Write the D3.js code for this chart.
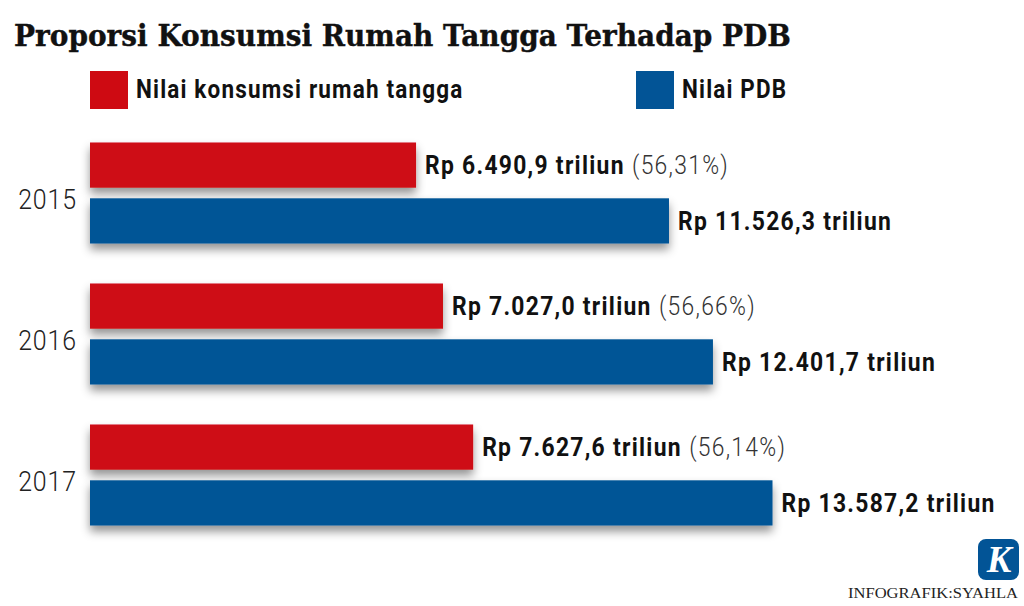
<!DOCTYPE html>
<html>
<head>
<meta charset="utf-8">
<script src="https://cdn.jsdelivr.net/npm/d3@7"></script>
<style>
  html, body { margin: 0; padding: 0; background: #fff; }
  svg { display: block; }
  .label { font-family: "Roboto", sans-serif; }
</style>
</head>
<body>
<div id="chart"></div>
<script>
const years = ["2015", "2016", "2017"];
const seriesKeys = ["konsumsi", "pdb"];
const seriesNames = ["Nilai konsumsi rumah tangga", "Nilai PDB"];
const konsumsi = [6490.9, 7027.0, 7627.6];
const pdb = [11526.3, 12401.7, 13587.2];
const konsumsiLabels = ["Rp 6.490,9 triliun", "Rp 7.027,0 triliun", "Rp 7.627,6 triliun"];
const pdbLabels = ["Rp 11.526,3 triliun", "Rp 12.401,7 triliun", "Rp 13.587,2 triliun"];
const shares = ["(56,31%)", "(56,66%)", "(56,14%)"];

const width = 1024;
const height = 606;
const red = "#ce0a12";
const blue = "#025496";
const narrow = 0.915; // Roboto dipersempit, mendekati font asli

const svg = d3.select("#chart").append("svg")
    .attr("width", width)
    .attr("height", height)
    .attr("viewBox", [0, 0, width, height]);

svg.append("defs").append("filter")
    .attr("id", "shadow")
    .attr("x", "-5%").attr("y", "-40%")
    .attr("width", "110%").attr("height", "190%")
  .append("feDropShadow")
    .attr("dx", 0).attr("dy", 6)
    .attr("stdDeviation", 5)
    .attr("flood-color", "#000")
    .attr("flood-opacity", 0.42);

const x = d3.scaleLinear().domain([0, 13587.2]).range([90, 772.5]);
const y = d3.scaleBand().domain(years).range([142.5, 525.5]).paddingInner(0.2837);
const inner = d3.scaleBand().domain(seriesKeys).range([0, y.bandwidth()]).paddingInner(0.19);
const color = d3.scaleOrdinal().domain(seriesKeys).range([red, blue]);

const rows = years.map((year, i) => ({
  year,
  bars: [
    { key: "konsumsi", value: konsumsi[i], label: konsumsiLabels[i], share: shares[i] },
    { key: "pdb", value: pdb[i], label: pdbLabels[i], share: null }
  ]
}));

// judul
svg.append("text")
    .attr("x", 14)
    .attr("y", 46)
    .attr("font-family", "DejaVu Serif, serif")
    .attr("font-weight", 700)
    .attr("font-size", 30)
    .attr("textLength", 777)
    .attr("lengthAdjust", "spacingAndGlyphs")
    .attr("fill", "#111")
    .attr("stroke", "#111")
    .attr("stroke-width", 0.4)
    .text("Proporsi Konsumsi Rumah Tangga Terhadap PDB");

// legenda
const legendX = [90, 636];
const legend = svg.append("g").selectAll("g")
  .data(seriesKeys)
  .join("g")
    .attr("transform", (d, i) => `translate(${legendX[i]},71)`);

legend.append("rect")
    .attr("width", 38)
    .attr("height", 38)
    .attr("fill", d => color(d));

legend.append("text")
    .attr("class", "label")
    .attr("transform", `translate(46,27) scale(0.9,1)`)
    .attr("font-size", 25)
    .attr("font-weight", 700)
    .attr("letter-spacing", 1.3)
    .attr("fill", "#111")
    .text((d, i) => seriesNames[i]);

// batang per tahun
const group = svg.append("g").selectAll("g")
  .data(rows)
  .join("g")
    .attr("transform", d => `translate(0,${y(d.year)})`);

group.append("text")
    .attr("class", "label")
    .attr("transform", `translate(77,${y.bandwidth() / 2 + 16}) scale(0.89,1)`)
    .attr("text-anchor", "end")
    .attr("font-size", 28)
    .attr("font-weight", 300)
    .attr("letter-spacing", 1)
    .attr("fill", "#222")
    .text(d => d.year);

const bar = group.selectAll("g")
  .data(d => d.bars)
  .join("g")
    .attr("transform", d => `translate(0,${inner(d.key)})`);

bar.append("rect")
    .attr("x", x(0))
    .attr("width", d => x(d.value) - x(0))
    .attr("height", inner.bandwidth())
    .attr("fill", d => color(d.key))
    .attr("filter", "url(#shadow)");

const valueText = bar.append("text")
    .attr("class", "label")
    .attr("transform", d => `translate(${x(d.value) + 9},${inner.bandwidth() / 2 + 9}) scale(${narrow},1)`)
    .attr("font-size", 25)
    .attr("letter-spacing", 1.4)
    .attr("fill", "#111");

valueText.append("tspan")
    .attr("font-weight", 700)
    .text(d => d.label);

valueText.append("tspan")
    .attr("dx", 8)
    .attr("font-weight", 300)
    .attr("fill", "#333")
    .text(d => d.share);

// logo & kredit
const logo = svg.append("g").attr("transform", "translate(978,539)");
logo.append("rect")
    .attr("width", 41)
    .attr("height", 41)
    .attr("rx", 8)
    .attr("fill", blue);
logo.append("text")
    .attr("x", 21)
    .attr("y", 33)
    .attr("text-anchor", "middle")
    .attr("font-family", "Liberation Serif, serif")
    .attr("font-style", "italic")
    .attr("font-weight", 700)
    .attr("font-size", 37)
    .attr("fill", "#fff")
    .text("K");

svg.append("text")
    .attr("x", 848)
    .attr("y", 598)
    .attr("font-family", "Liberation Serif, serif")
    .attr("font-size", 15)
    .attr("textLength", 170)
    .attr("lengthAdjust", "spacingAndGlyphs")
    .attr("fill", "#222")
    .text("INFOGRAFIK:SYAHLA");
</script>
</body>
</html>
